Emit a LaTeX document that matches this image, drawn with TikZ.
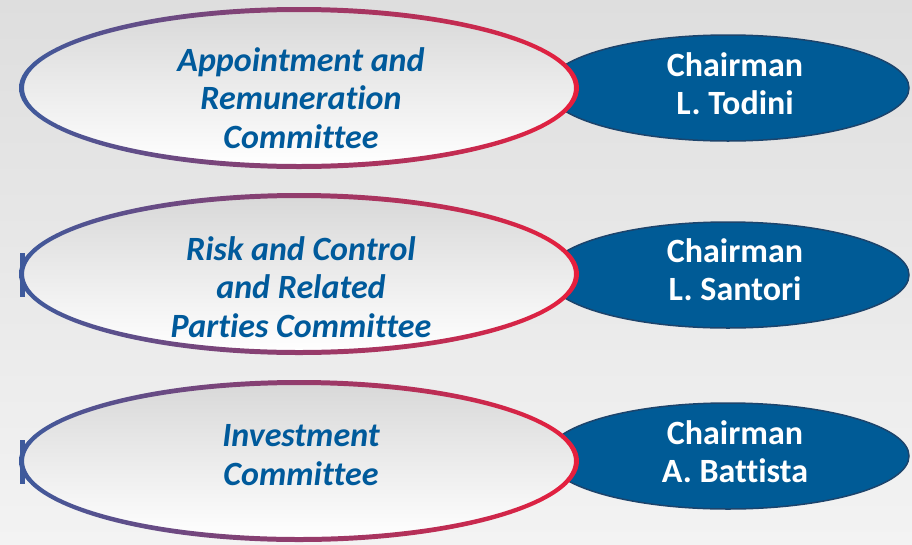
\documentclass[tikz,border=0pt]{standalone}
\usepackage{fontspec}
\setmainfont{Carlito}[Ligatures=NoCommon]
\usepackage{tikz}

\definecolor{bgtop}{RGB}{222,222,222}
\definecolor{bgbot}{RGB}{243,243,243}
\definecolor{fillgrey}{RGB}{216,216,216}
\definecolor{chairblue}{RGB}{0,91,150}
\definecolor{chairedge}{RGB}{28,68,108}
\definecolor{comblue}{RGB}{0,90,155}
\definecolor{ringblue}{RGB}{62,90,156}
\definecolor{ringmid}{RGB}{145,70,125}
\definecolor{ringred}{RGB}{232,30,60}

\tikzset{
  comtext/.style={font=\bfseries\itshape\fontsize{34}{38.5}\selectfont, text=comblue, align=center},
  chairtext/.style={font=\bfseries\fontsize{34}{38}\selectfont, text=white, align=center},
  chairfill/.style={fill=chairblue, draw=chairedge, line width=1.5pt},
  comfill/.style={top color=fillgrey, bottom color=white},
  ring/.style={even odd rule, left color=ringblue, middle color=ringmid, right color=ringred},
  bar/.style={fill=ringblue},
}

\begin{document}
\begin{tikzpicture}[x=1pt, y=-1pt]
	\useasboundingbox (0,0) rectangle (912,544);
	\shade [top color=bgtop, bottom color=bgbot] (0,0) rectangle (912,544);

	% chairman ellipses, partly hidden behind the committees
	\filldraw [chairfill] (728,88) ellipse [x radius=181, y radius=53];
	\filldraw [chairfill] (728,275) ellipse [x radius=181, y radius=53];
	\filldraw [chairfill] (728,456) ellipse [x radius=181, y radius=53];

	% small marks on the left
	\fill [bar] (20,253) rectangle (25,297);
	\fill [bar] (20,440) rectangle (25,484);

	% committees
	\shade [comfill] (299,88) ellipse [x radius=278, y radius=79];
	\shade [ring] (299,88) ellipse [x radius=280, y radius=81] (299,88) ellipse [x radius=275, y radius=76];
	\shade [comfill] (299,274) ellipse [x radius=278, y radius=79];
	\shade [ring] (299,274) ellipse [x radius=280, y radius=81] (299,274) ellipse [x radius=275, y radius=76];
	\shade [comfill] (299,461) ellipse [x radius=278, y radius=79];
	\shade [ring] (299,461) ellipse [x radius=280, y radius=81] (299,461) ellipse [x radius=275, y radius=76];

	\node [comtext] (arc) at (301,98) {Appointment and\\Remuneration\\Committee};
	\node [comtext] (rcc) at (301,287) {Risk and Control\\and Related\\Parties Committee};
	\node [comtext] (inv) at (301,455) {Investment\\Committee};

	\node [chairtext] (arcchair) at (735,84) {Chairman\\L. Todini};
	\node [chairtext] (rccchair) at (735,270) {Chairman\\L. Santori};
	\node [chairtext] (invchair) at (735,452) {Chairman\\A. Battista};
\end{tikzpicture}
\end{document}
